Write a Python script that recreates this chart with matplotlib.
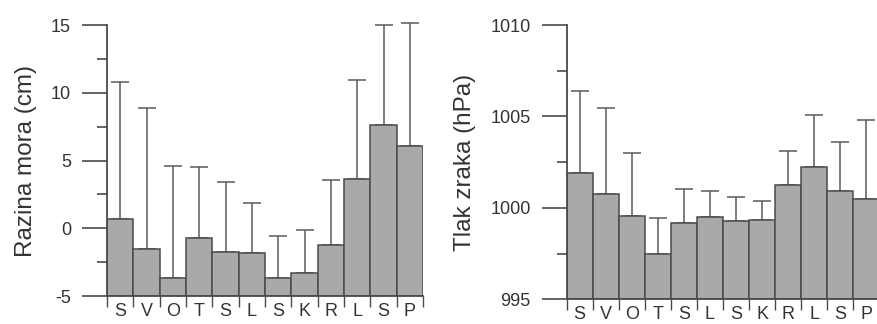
import matplotlib
matplotlib.use('Agg')
import matplotlib.pyplot as plt
import numpy as np

# station initials (x axis)
stations = ['S', 'V', 'O', 'T', 'S', 'L', 'S', 'K', 'R', 'L', 'S', 'P']

# sea level (cm): mean and upper error-bar end
sea_mean = [0.7, -1.55, -3.7, -0.75, -1.75, -1.85, -3.65, -3.3, -1.2, 3.65, 7.6, 6.05]
sea_top = [10.8, 8.9, 4.6, 4.55, 3.45, 1.9, -0.6, -0.1, 3.55, 10.95, 15.0, 15.15]

# air pressure (hPa): mean and upper error-bar end
pres_mean = [1001.9, 1000.75, 999.55, 997.5, 999.2, 999.5, 999.3, 999.35, 1001.25, 1002.25, 1000.95, 1000.5]
pres_top = [1006.4, 1005.45, 1003.0, 999.45, 1001.05, 1000.9, 1000.6, 1000.4, 1003.1, 1005.1, 1003.6, 1004.8]

plt.rcParams['font.family'] = ['Liberation Sans', 'DejaVu Sans']
plt.rcParams['axes.unicode_minus'] = False

fig = plt.figure(figsize=(8.78, 3.24), dpi=100)
ax1 = fig.add_axes([0.1219, 0.0864, 0.3599, 0.8364])
ax2 = fig.add_axes([0.6454, 0.0762, 0.3560, 0.8466])

dark = '#4a4a4a'
x = np.arange(len(stations))


def panel(ax, means, tops, base, ylim, major, minor, ylabel):
    means = np.array(means)
    tops = np.array(tops)
    ax.bar(x, means - base, bottom=base, width=1.0, color='#a9a9aa',
           edgecolor=dark, linewidth=1.1, zorder=2)
    eb = ax.errorbar(x, means, yerr=[np.zeros_like(means), tops - means], fmt='none',
                     ecolor='#5a5a5a', elinewidth=1.1, capsize=6.5, capthick=1.1, zorder=1)
    for art in eb.lines[1] + eb.lines[2]:
        art.set_clip_on(False)
    ax.set_xlim(-0.5, len(stations) - 0.5)
    ax.set_ylim(*ylim)
    ax.set_yticks(major)
    ax.set_yticks(minor, minor=True)
    ax.tick_params(axis='y', which='major', length=18, width=1.2, color=dark,
                   labelsize=13, labelcolor='#333333', pad=8)
    ax.tick_params(axis='y', which='minor', length=7, width=1.2, color=dark)
    # boundary ticks between bars, labels at centres
    ax.set_xticks(np.arange(-0.5, len(stations)), labels=[])
    ax.set_xticks(x, labels=stations, minor=True)
    ax.tick_params(axis='x', which='major', length=8, width=1.0, color=dark)
    ax.tick_params(axis='x', which='minor', length=0, labelsize=13,
                   labelcolor='#333333', pad=5)
    for s in ['top', 'right']:
        ax.spines[s].set_visible(False)
    for s in ['left', 'bottom']:
        ax.spines[s].set_color(dark)
        ax.spines[s].set_linewidth(1.3)
    ax.set_ylabel(ylabel, fontsize=17.5, color='#333333', labelpad=10)


panel(ax1, sea_mean, sea_top, -5, (-5, 15), [-5, 0, 5, 10, 15],
      [-2.5, 2.5, 7.5, 12.5], 'Razina mora (cm)')
panel(ax2, pres_mean, pres_top, 995, (995, 1010), [995, 1000, 1005, 1010],
      [997.5, 1002.5, 1007.5], 'Tlak zraka (hPa)')

fig.savefig('out.png', dpi=100)
